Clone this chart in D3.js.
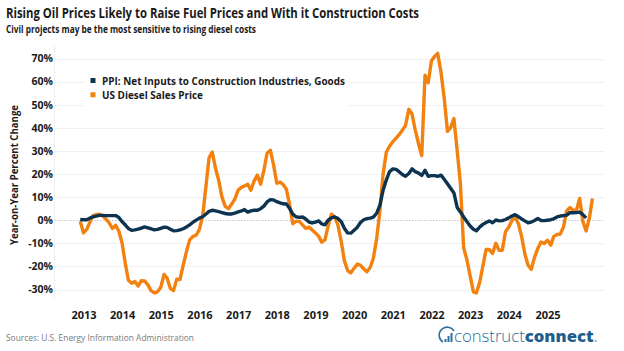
<!DOCTYPE html>
<html>
<head>
<meta charset="utf-8">
<script src="https://cdn.jsdelivr.net/npm/d3@7"></script>
<style>
  body { margin: 0; background: #fff; }
  text { font-family: "Open Sans", "Noto Sans", sans-serif; }
</style>
</head>
<body>
<svg id="chart" width="624" height="351"></svg>
<script>
// monthly series, first value is this month
const firstMonth = "2012-12";

const ppiValues = [
  0.3, 0.2, 0.2, 0.9, 1.4, 1.8, 2.1, 2.1, 2, 2, 2, 2, 1.2,
  -0.7, -2.1, -3.6, -4.4, -4.2, -3.9, -3.4, -2.9, -3.3, -3.7, -4.2, -4,
  -3.5, -3, -3.1, -3.9, -4.6, -4.5, -4.2, -3.7, -2.9, -2, -0.9, 0,
  0.9, 1.5, 2.6, 3.8, 4.3, 4, 3.7, 3.3, 2.9, 2.7, 2.7, 3.1,
  3.6, 4, 4.6, 3.5, 4, 4.3, 4.3, 5, 6.1, 7.9, 8.9, 8.8,
  8, 7.5, 7.1, 7, 5.2, 2.6, 1.5, 1.2, 1.4, 0.5, -0.8, -1.2,
  -0.8, -0.3, -1.6, -2, 0, 1, 1.4, 0.8, -0.6, -3.5, -5.5, -5.6,
  -4.3, -3, -1, 0.2, 0.7, 0.9, 1.3, 3, 6.5, 13, 17.5, 21,
  22.2, 22, 21, 19.8, 19, 20.2, 22.2, 21, 20.4, 19.4, 21.6, 19,
  19.3, 19.3, 19, 19.5, 17.7, 15.8, 13.8, 11.8, 5.5, 3.6, 1.4, -0.6,
  -2.5, -3.9, -4.6, -3, -1.8, -1, -0.3, -1.1, 0.1, -0.3, -0.2, 0.3,
  1, 1.8, 2.4, 1.5, 0.6, -0.3, -1.1, -0.8, -0.1, 0.7, -0.1, -0.2,
  0, 0.2, 0.6, 1.4, 1.8, 2, 2.2, 3.3, 3.2, 3.3, 3.5, 2.4,
  1
];

const dieselValues = [
  -0.5, -5.5, -4, -1, 2, 2.4, 2.6, 1.8, 0.5, -1.2, -3.6, -2.2, -4.8,
  -10, -19, -26, -27.3, -26.5, -28.5, -26.2, -26.3, -28, -30.5, -31.5, -31,
  -29, -23.5, -25, -29.5, -30.5, -25.5, -25.7, -19.5, -13.5, -8.5, -7, -6.5,
  -4, 2, 14, 27, 29.5, 22.5, 17.3, 10, 6, 5, 7, 9.2,
  13, 14.2, 14.8, 15.6, 13, 17, 19.5, 15.6, 21.6, 29, 30.3, 24,
  16, 16.5, 15.5, 13.5, 7, -1.5, -0.5, -0.5, -2, -3.5, -3, -4.2,
  -5.5, -7, -9.5, -8.5, -2.5, 2.6, 1.5, -2, -9, -17.5, -21.8, -22.8,
  -20.8, -19, -19.5, -21, -22.3, -20.5, -16.5, -8, 4, 20, 29.5, 32,
  34, 35.5, 37, 39, 41, 48, 46, 39, 33, 28, 62.8, 59.5,
  69, 71, 72.2, 64, 53, 38.5, 40, 44, 30, 16, -12, -17,
  -24, -31, -31.5, -27, -20, -12.7, -12.7, -14.4, -10, -13, -13, -5,
  -3, 0, 1.4, -1.5, -7, -14.5, -19.5, -21.3, -16, -12.3, -9.4, -10.1,
  -8.7, -10.8, -7, -6.2, -6, -3, 4, 5.5, 4.3, 4.3, 9.4, -0.5,
  -4.6, 1, 9.4
];

const yearLabels = ["2013", "2014", "2015", "2016", "2017", "2018", "2019",
  "2020", "2021", "2022", "2023", "2024", "2025"];
const pctTicks = [-30, -20, -10, 0, 10, 20, 30, 40, 50, 60, 70];

const seriesNames = ["PPI: Net Inputs to Construction Industries, Goods", "US Diesel Sales Price"];
const seriesColors = ["#0c3450", "#f3810f"];

const svg = d3.select("#chart");
const parseMonth = d3.timeParse("%Y-%m");
const parseYear = d3.timeParse("%Y");
const start = parseMonth(firstMonth);

const x = d3.scaleTime()
  .domain([parseYear("2013"), parseYear("2025")])
  .range([83.5, 547.5]);
const y = d3.scaleLinear()
  .domain([-30, 70])
  .range([289.5, 58.5]);

// squeeze text to a measured width
function fit(sel, w) {
  sel.attr("textLength", w).attr("lengthAdjust", "spacingAndGlyphs");
}

// title block
svg.append("text")
  .attr("x", 6).attr("y", 18)
  .attr("font-size", 15).attr("font-weight", 700).attr("fill", "#1a1a1a")
  .text("Rising Oil Prices Likely to Raise Fuel Prices and With it Construction Costs")
  .call(fit, 413);
svg.append("text")
  .attr("x", 6).attr("y", 33.3)
  .attr("font-size", 10).attr("font-weight", 700).attr("fill", "#1a1a1a")
  .text("Civil projects may be the most sensitive to rising diesel costs")
  .call(fit, 250);

// grid
svg.append("line")
  .attr("x1", 54.5).attr("x2", 54.5).attr("y1", 45).attr("y2", 300)
  .attr("stroke", "#f0f0f0");

svg.append("g").selectAll("line")
  .data(pctTicks)
  .join("line")
  .attr("x1", 55).attr("x2", 604)
  .attr("y1", d => Math.round(y(d)) + 0.5).attr("y2", d => Math.round(y(d)) + 0.5)
  .attr("stroke", d => d === 0 ? "#c8c8c8" : "#f0f0f0")
  .attr("stroke-dasharray", d => d === 0 ? "1.5,1.5" : null);

// y axis
const yAxis = svg.append("g")
  .attr("transform", "translate(53,0)")
  .call(d3.axisLeft(y).tickValues(pctTicks).tickSize(0).tickPadding(0).tickFormat(d => d + "%"));
yAxis.select(".domain").remove();
yAxis.selectAll("text")
  .attr("font-size", 10.5).attr("font-weight", 700).attr("fill", "#1a1a1a")
  .attr("font-family", '"Open Sans", sans-serif');

svg.append("text")
  .attr("transform", "translate(18,175) rotate(-90)")
  .attr("text-anchor", "middle")
  .attr("font-size", 10).attr("font-weight", 700).attr("fill", "#1a1a1a")
  .text("Year-on-Year Percent Change")
  .call(fit, 140);

// x axis
const xAxis = svg.append("g")
  .attr("transform", "translate(0,311)")
  .call(d3.axisBottom(x)
    .tickValues(yearLabels.map(parseYear))
    .tickSize(0).tickPadding(0)
    .tickFormat(d3.timeFormat("%Y")));
xAxis.select(".domain").remove();
xAxis.selectAll("text")
  .attr("font-size", 11).attr("font-weight", 700).attr("fill", "#1a1a1a")
  .attr("font-family", '"Open Sans", sans-serif');

// lines
const line = d3.line()
  .x((d, i) => x(d3.timeMonth.offset(start, i)))
  .y(d => y(d));

svg.append("path")
  .datum(dieselValues)
  .attr("fill", "none")
  .attr("stroke", seriesColors[1])
  .attr("stroke-width", 3.4)
  .attr("stroke-linejoin", "round")
  .attr("d", line);

svg.append("path")
  .datum(ppiValues)
  .attr("fill", "none")
  .attr("stroke", seriesColors[0])
  .attr("stroke-width", 3.4)
  .attr("stroke-linejoin", "round")
  .attr("d", line);

// legend
const legend = svg.append("g");
legend.append("rect")
  .attr("x", 84).attr("y", 70).attr("width", 264).attr("height", 38)
  .attr("fill", "#fff");
const legendWidths = [243, 101];
seriesNames.forEach((name, i) => {
  legend.append("rect")
    .attr("x", 90.5).attr("y", 78 + i * 14.3).attr("width", 5).attr("height", 5)
    .attr("fill", seriesColors[i]);
  legend.append("text")
    .attr("x", 102).attr("y", 84.5 + i * 14.3)
    .attr("font-size", 11).attr("font-weight", 700).attr("fill", "#1a1a1a")
    .text(name)
    .call(fit, legendWidths[i]);
});

// footer
svg.append("text")
  .attr("x", 6).attr("y", 340.5)
  .attr("font-size", 8.5).attr("fill", "#7a7a7a")
  .text("Sources: U.S. Energy Information Administration")
  .call(fit, 188);

const logo = svg.append("g").attr("transform", "translate(442,336)");
logo.append("path")
  .attr("d", "M1,6 A8,8 0 1 1 12,-5")
  .attr("fill", "none").attr("stroke", "#2f6f9c").attr("stroke-width", 1.6);
[[2.5, 3], [5.5, 0], [8.5, -3]].forEach(([bx, by]) => {
  logo.append("rect")
    .attr("x", bx).attr("y", by).attr("width", 2).attr("height", 6 - by)
    .attr("fill", "#2f6f9c");
});
const logoText = logo.append("text")
  .attr("x", 12).attr("y", 5.5)
  .attr("font-size", 16).attr("fill", "#2f6f9c")
  .attr("font-family", '"Noto Sans", sans-serif');
logoText.append("tspan").attr("font-weight", 300).text("construct");
logoText.append("tspan").attr("font-weight", 800).attr("fill", "#1f5e8c").text("connect");
logoText.append("tspan").attr("font-weight", 400).attr("fill", "#7aa6c8").text(".");
logoText.call(fit, 144);
</script>
</body>
</html>
